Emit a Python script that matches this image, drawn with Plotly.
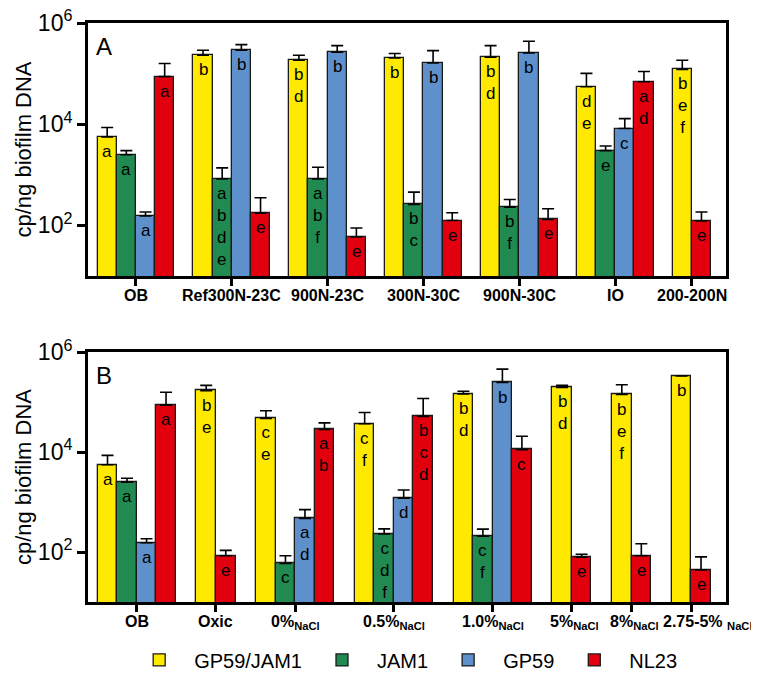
import math
import plotly.graph_objects as go
from plotly.subplots import make_subplots

SERIES = ["GP59/JAM1", "JAM1", "GP59", "NL23"]
COLORS = ["#FFE900", "#218A50", "#5E91CC", "#E2000E"]

# panel A
groups_a = ["OB", "Ref300N-23C", "900N-23C", "300N-30C", "900N-30C", "IO", "200-200N"]
mean_a = {
    "GP59/JAM1": [5600, 231000, 184000, 205000, 211000, 55000, 121000],
    "JAM1": [2500, 830, 830, 260, 230, 3000, None],
    "GP59": [153, 289000, 264000, 163000, 257000, 8200, None],
    "NL23": [87000, 175, 59, 125, 131, 69000, 122],
}
err_a = {
    "GP59/JAM1": [3000, 58000, 47000, 44000, 147000, 46000, 63000],
    "JAM1": [500, 540, 580, 195, 95, 700, None],
    "GP59": [31, 85000, 94000, 122000, 178000, 4700, None],
    "NL23": [71000, 177, 30, 53, 82, 41000, 62],
}
letters_a = {
    "GP59/JAM1": ["a", "b", "b d", "b", "b d", "d e", "b e f"],
    "JAM1": ["a", "a b d e", "a b f", "b c", "b f", "e", None],
    "GP59": ["a", "b", "b", "b", "b", "c", None],
    "NL23": ["a", "e", "e", "e", "e", "a d", "e"],
}

# panel B
groups_b = ["OB", "Oxic", "0%<sub>NaCl</sub>", "0.5%<sub>NaCl</sub>", "1.0%<sub>NaCl</sub>",
            "5%<sub>NaCl</sub>", "8%<sub>NaCl</sub>", "2.75-5% <sub>NaCl</sub>"]
mean_b = {
    "GP59/JAM1": [5600, 170000, 47400, 36800, 146000, 197000, 142000, 334000],
    "JAM1": [2500, None, 59, 229, 207, None, None, None],
    "GP59": [153, None, 471, 1200, 247000, None, None, None],
    "NL23": [87000, 84, 28400, 51800, 11200, 79, 84, 44],
}
err_b = {
    "GP59/JAM1": [3000, 46000, 19600, 25300, 19000, 19000, 81000, 0],
    "JAM1": [500, None, 25, 62, 80, None, None, None],
    "GP59": [31, None, 235, 540, 211000, None, None, None],
    "NL23": [71000, 24, 10000, 66800, 9500, 11, 62, 36],
}
letters_b = {
    "GP59/JAM1": ["a", "b e", "c e", "c f", "b d", "b d", "b e f", "b"],
    "JAM1": ["a", None, "c", "c d f", "c f", None, None, None],
    "GP59": ["a", None, "a d", "d", "b", None, None, None],
    "NL23": ["a", "e", "a b", "b c d", "c", "e", "e", "e"],
}
# horizontal nudge (px) of the group labels; the last label of B sits right of its tick
label_shift_a = [0] * 7
label_shift_b = [0, 0, 0, 0, 0, 3, 3, 17]

FONT = "Liberation Sans, Arial, sans-serif"
LABEL_FONT = dict(size=16, weight="bold", color="black", family=FONT)

fig = make_subplots(rows=2, cols=1, vertical_spacing=0.13)


def add_panel(row, groups, means, errs, letters, gap, show_legend, shifts):
    # lay bars out side by side, skipping missing series, with a gap between groups
    pos = {s: [] for s in SERIES}
    centers = []
    cursor = 0.0
    for gi in range(len(groups)):
        xs = []
        for s in SERIES:
            if means[s][gi] is not None:
                pos[s].append((gi, cursor + 0.5))
                xs.append(cursor + 0.5)
                cursor += 1
        centers.append(sum(xs) / len(xs))
        cursor += gap
    end = cursor - gap
    sfx = str(row) if row > 1 else ""

    for s, color in zip(SERIES, COLORS):
        gis = [g for g, _ in pos[s]]
        x = [p for _, p in pos[s]]
        y = [means[s][g] for g in gis]
        e = [errs[s][g] for g in gis]
        fig.add_trace(
            go.Bar(
                x=x, y=y, width=1, name=s, legendgroup=s, showlegend=show_legend,
                marker=dict(color=color, line=dict(color="#1a1a1a", width=1.3)),
                error_y=dict(type="data", symmetric=False, array=e, arrayminus=[0] * len(e),
                             color="black", thickness=1.6, width=6),
            ),
            row=row, col=1,
        )
        for g, p in pos[s]:
            lab = letters[s][g]
            if lab:
                fig.add_annotation(
                    x=p, y=math.log10(means[s][g]), xref="x" + sfx, yref="y" + sfx,
                    text="<br>".join(lab.split()),
                    showarrow=False, yanchor="top", yshift=-3,
                    font=dict(size=17, color="black", family=FONT),
                )

    # group labels drawn as annotations so each one can be nudged
    for c, lab, dx in zip(centers, groups, shifts):
        fig.add_annotation(
            x=c, y=0, xref="x" + sfx, yref=f"y{sfx} domain", text=lab,
            showarrow=False, yanchor="top", yshift=-9, xshift=dx, font=LABEL_FONT,
        )

    fig.update_xaxes(
        range=[-0.5, end + 0.78], tickvals=centers, ticktext=[""] * len(groups),
        ticks="outside", ticklen=7, tickwidth=3, tickcolor="black",
        showline=True, linewidth=3, linecolor="black", mirror=True,
        showgrid=False, zeroline=False, automargin=False, row=row, col=1,
    )
    fig.update_yaxes(
        type="log", range=[1, 6], tickvals=[1e2, 1e4, 1e6],
        ticktext=["10<sup>2</sup>", "10<sup>4</sup>", "10<sup>6</sup>"],
        ticks="outside", ticklen=8, tickwidth=3, tickcolor="black",
        tickfont=dict(size=23, color="black", family=FONT), ticklabeloverflow="allow",
        showline=True, linewidth=3, linecolor="black", mirror=True, showgrid=False,
        automargin=False,
        title=dict(text="cp/ng biofilm DNA", font=dict(size=22, color="black", family=FONT),
                   standoff=1),
        row=row, col=1,
    )


add_panel(1, groups_a, mean_a, err_a, letters_a, 1.0, True, label_shift_a)
add_panel(2, groups_b, mean_b, err_b, letters_b, 1.06, False, label_shift_b)

fig.update_yaxes(domain=[0.563, 1.0], row=1, col=1)
fig.update_yaxes(domain=[0.0, 0.4315], row=2, col=1)

for letter, ref in [("A", "y"), ("B", "y2")]:
    fig.add_annotation(
        text=letter, xref="x domain" if ref == "y" else "x2 domain", yref=f"{ref} domain",
        x=0.01, y=0.97, xanchor="left", yanchor="top", showarrow=False,
        font=dict(size=24, color="black", family=FONT),
    )

fig.update_layout(
    width=759, height=683,
    margin=dict(l=80, r=41, t=15, b=85),
    paper_bgcolor="white", plot_bgcolor="white",
    barmode="overlay", bargap=0,
    font=dict(family=FONT, color="black"),
    legend=dict(orientation="h", x=0.494, xanchor="center", y=-0.1, yanchor="middle",
                font=dict(size=20, color="black", family=FONT), itemwidth=60),
)

fig.write_html("out.html")
